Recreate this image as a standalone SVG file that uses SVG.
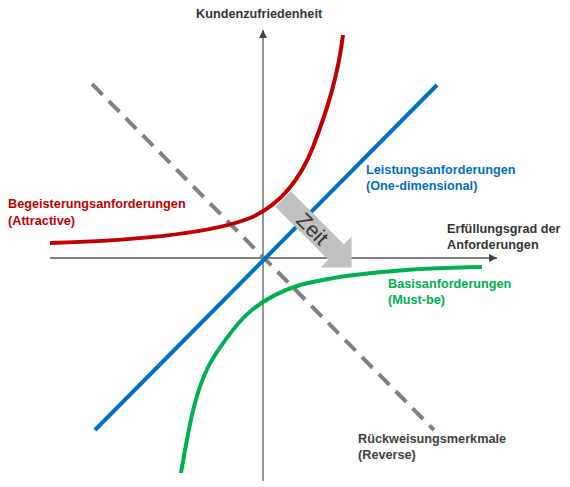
<svg xmlns="http://www.w3.org/2000/svg" width="570" height="487" viewBox="0 0 570 487">
<style>
.lbl{font-family:"Liberation Sans",Arial,sans-serif;font-weight:bold;font-size:12.7px}
.axis{stroke:#595959;stroke-width:1.3;fill:none}
.curve{fill:none;stroke-width:4;stroke-linecap:butt}
</style>
<defs>
<marker id="ah" viewBox="0 0 8 8" refX="8" refY="4" markerWidth="8" markerHeight="8" markerUnits="userSpaceOnUse" orient="auto">
<path d="M0,0 L8,4 L0,8 z" fill="#404040"/>
</marker>
</defs>
<rect width="570" height="487" fill="#ffffff"/>
<g id="connectors">
<path id="x-axis" class="axis" d="M50,258 L497,258" marker-end="url(#ah)"/>
<path id="y-axis" class="axis" d="M263,481 L263,30" marker-end="url(#ah)"/>
<path id="reverse" class="curve" d="M92,84 L434,430" stroke="#808080" stroke-dasharray="15 9"/>
<path id="onedim" class="curve" d="M95,430 L437,85" stroke="#0070c0"/>
<path id="attractive" class="curve" d="M50,243 C150,240 215,232 250,218 C280,205 300,180 313,147 C328,108 338,75 343,35" stroke="#c00000"/>
<path id="mustbe" class="curve" d="M181,473 C190,420 197,382 215,355 C235,325 252,300 300,285 C350,272 420,268 482,267" stroke="#00b050"/>
</g>
<g id="zeit" transform="translate(283,199) rotate(45)">
<polygon points="0,-11 75,-11 75,-22 97,0 75,22 75,11 0,11" fill="#c0c0c0"/>
<text x="42" y="7.5" text-anchor="middle" font-family="Liberation Sans, Arial, sans-serif" font-size="21" fill="#333333">Zeit</text>
</g>
<g id="label-y"><text class="lbl" x="196" y="18" fill="#333333" font-size="13">Kundenzufriedenheit</text></g>
<g id="label-x"><text class="lbl" x="447" y="233" fill="#333333"><tspan x="447">Erfüllungsgrad der</tspan><tspan x="447" dy="15.5">Anforderungen</tspan></text></g>
<g id="label-attractive"><text class="lbl" x="8" y="208" fill="#c00000"><tspan x="8">Begeisterungsanforderungen</tspan><tspan x="8" dy="16.5">(Attractive)</tspan></text></g>
<g id="label-onedim"><text class="lbl" x="366" y="174" fill="#0070c0"><tspan x="366">Leistungsanforderungen</tspan><tspan x="366" dy="15.5">(One-dimensional)</tspan></text></g>
<g id="label-mustbe"><text class="lbl" x="388" y="288" fill="#00b050"><tspan x="388">Basisanforderungen</tspan><tspan x="388" dy="15.5">(Must-be)</tspan></text></g>
<g id="label-reverse"><text class="lbl" x="358" y="443" fill="#404040"><tspan x="358">Rückweisungsmerkmale</tspan><tspan x="358" dy="15.5">(Reverse)</tspan></text></g>
</svg>
